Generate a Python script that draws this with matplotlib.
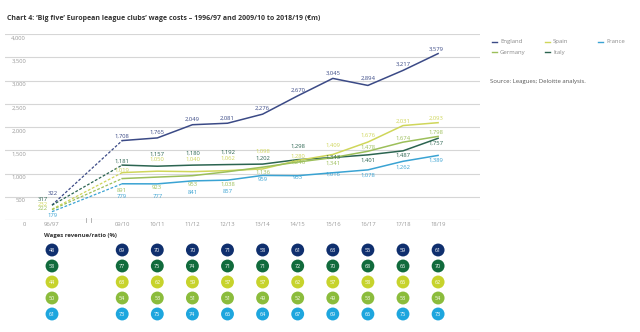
import matplotlib
matplotlib.use("Agg")
from matplotlib import pyplot as plt
from matplotlib.lines import Line2D

plt.rcParams['font.family'] = ['Open Sans', 'DejaVu Sans']

seasons = ['96/97', '09/10', '10/11', '11/12', '12/13', '13/14', '14/15', '15/16', '16/17', '17/18', '18/19']

england = [322, 1708, 1765, 2049, 2081, 2276, 2670, 3045, 2894, 3217, 3579]
spain = [232, 1019, 1050, 1040, 1062, 1098, 1280, 1409, 1676, 2031, 2093]
germany = [222, 891, 923, 953, 1038, 1136, 1246, 1341, 1478, 1674, 1798]
italy = [317, 1181, 1157, 1180, 1192, 1202, 1298, 1343, 1401, 1487, 1757]
france = [179, 779, 777, 841, 857, 959, 953, 1016, 1078, 1262, 1389]

# wages/revenue ratio (%) rows under the chart
ratio_england = [48, 69, 70, 70, 71, 58, 61, 63, 55, 59, 61]
ratio_italy = [58, 77, 75, 74, 71, 71, 72, 70, 68, 66, 70]
ratio_spain = [44, 63, 62, 59, 57, 57, 62, 57, 58, 66, 62]
ratio_germany = [50, 54, 53, 51, 51, 49, 52, 49, 53, 53, 54]
ratio_france = [61, 73, 75, 74, 66, 64, 67, 69, 66, 75, 73]

yticks = [0, 500, 1000, 1500, 2000, 2500, 3000, 3500, 4000]

# 96/97 sits two steps left of 09/10 (broken axis)
xpos = [0] + list(range(2, 12))

c_eng = '#3b4a86'
c_ita = '#2b6450'
c_spa = '#cfd65a'
c_ger = '#9cbf5a'
c_fra = '#3aa3d3'

# label vertical offsets in pixels (up positive)
off_eng = [12, 4, 6, 5, 5, 6, 6, 5, 7, 6, 4]
off_ita = [6, 4, 12, 12, 12, 6, 13, 0, -5, -4, -5]
off_spa = [5, 2, 12, 12, 12, 18, 4, 9, 7, 4, 4]
off_ger = [1, -12, -10, -9, -13, -5, 0, -6, 4, 4, 4]
off_fra = [-4, -13, -13, -12, -11, -4, -2, -1, -5, -6, -5]

W, H = 640, 332
fig = plt.figure(figsize=(W / 100, H / 100), dpi=100)

def px_axes(x0, y0, x1, y1):
    return fig.add_axes([x0 / W, 1 - y1 / H, (x1 - x0) / W, (y1 - y0) / H])

step = 35.1
x96 = 52
xl = ((5 - x96) / step, (480 - x96) / step)

ax = px_axes(5, 34, 480, 220)
ax.set_xlim(*xl)
ax.set_ylim(0, 4000)
ax.axis('off')
for t in yticks:
    ax.axhline(t, color='#a8a8a8' if t == 0 else '#d6d6d6', lw=0.8, zorder=0)
    ax.annotate(f'{t:,}', (-0.74, t), xytext=(0, -3), textcoords='offset points',
                ha='right', va='center', fontsize=4.2, color='#9a9a9a')
for x, s in zip(xpos, seasons):
    ax.annotate(s, (x, 0), xytext=(0, -3), textcoords='offset points',
                ha='center', va='center', fontsize=4.2, color='#9a9a9a')
# axis break marks
for xb in (0.97, 1.12):
    ax.plot([xb, xb], [-35, 35], color='#a8a8a8', lw=0.6, clip_on=False)

series = [
    ('England', england, c_eng, off_eng),
    ('Italy', italy, c_ita, off_ita),
    ('Spain', spain, c_spa, off_spa),
    ('Germany', germany, c_ger, off_ger),
    ('France', france, c_fra, off_fra),
]
for name, vals, col, offs in series:
    ax.plot(xpos[:2], vals[:2], color=col, lw=0.9, ls=(0, (2.2, 1.4)), zorder=2)
    ax.plot(xpos[1:], vals[1:], color=col, lw=1.1, zorder=3)
    for i, (x, v) in enumerate(zip(xpos, vals)):
        dx = 0
        if i == 0:
            dx = 1 if name in ('England', 'France') else -9
        elif i == len(vals) - 1:
            dx = -2
        ax.annotate(f'{v:,}', (x, v), xytext=(dx * 0.72, offs[i] * 0.72), textcoords='offset points',
                    ha='center', va='center', fontsize=4.2, color=col, zorder=4)

# ratio circles
bx = px_axes(5, 242, 480, 322)
bx.set_xlim(*xl)
bx.set_ylim(4.5, -0.5)
bx.axis('off')
rows = [
    (ratio_england, '#0f2f6e'),
    (ratio_italy, '#116b3c'),
    (ratio_spain, '#c7d32c'),
    (ratio_germany, '#8bbc3c'),
    (ratio_france, '#1ea6de'),
]
for r, (vals, col) in enumerate(rows):
    bx.scatter(xpos, [r] * len(xpos), s=86, color=col, edgecolors='none')
    for x, v in zip(xpos, vals):
        bx.text(x, r, str(v), ha='center', va='center', fontsize=3.9, color='white')

fig.text(44 / W, 1 - 235 / H, 'Wages revenue/ratio (%)', fontsize=4.3, fontweight='bold',
         color='#333333', ha='left', va='center')

fig.text(7 / W, 1 - 19 / H,
         "Chart 4: \u2018Big five\u2019 European league clubs\u2019 wage costs \u2013 1996/97 and 2009/10 to 2018/19 (\u20acm)",
         fontsize=5.0, fontweight='bold', color='#333333', ha='left', va='center')

# legend
legend = [('England', c_eng, 492, 41.7), ('Spain', c_spa, 545, 41.7), ('France', c_fra, 598, 41.7),
          ('Germany', c_ger, 492, 52.3), ('Italy', c_ita, 545, 52.3)]
for name, col, lx, ly in legend:
    fig.add_artist(Line2D([lx / W, (lx + 5) / W], [1 - ly / H, 1 - ly / H], color=col, lw=1.0))
    fig.text((lx + 8) / W, 1 - ly / H, name, fontsize=4.3, color='#8a8a8a', ha='left', va='center')

fig.text(490 / W, 1 - 81.7 / H, 'Source: Leagues; Deloitte analysis.', fontsize=4.3,
         color='#555555', ha='left', va='center')

fig.savefig('out.png', dpi=100)
